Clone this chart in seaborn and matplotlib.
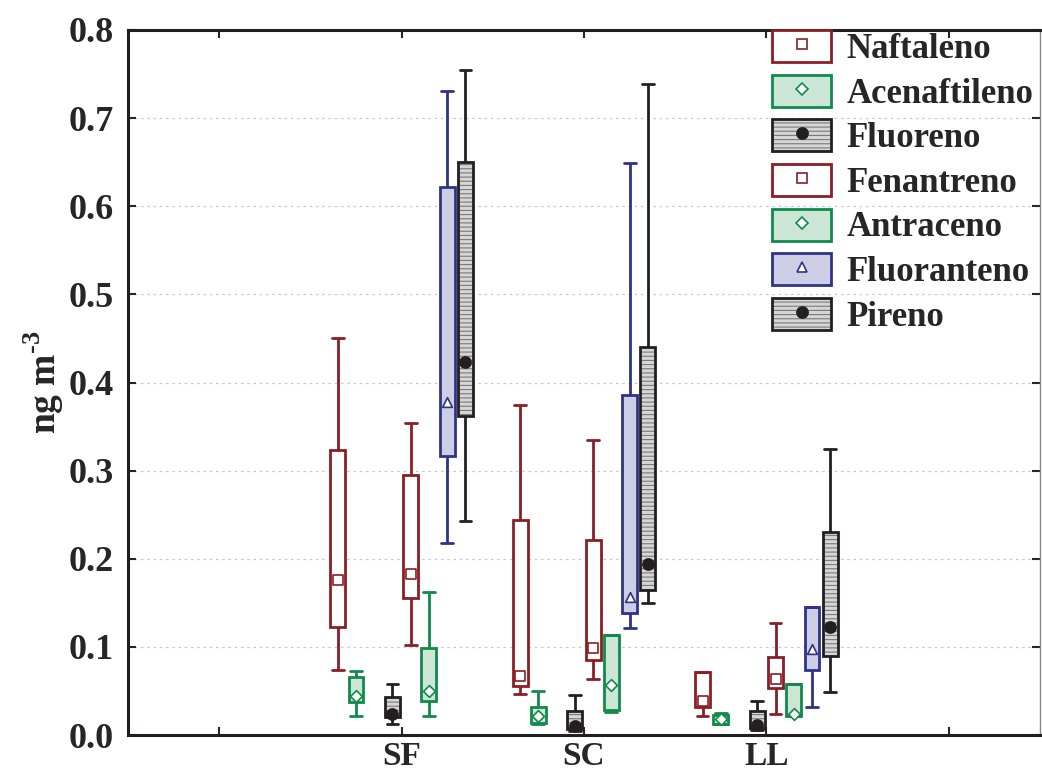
import numpy as np
import pandas as pd
import matplotlib as mpl
import matplotlib.pyplot as plt
import seaborn as sns
from matplotlib.patches import Patch
from matplotlib.lines import Line2D
from matplotlib.colors import to_rgba

# sites on the x axis and compounds (one box each per site)
sites = ['SF', 'SC', 'LL']
compounds = ['Naftaleno', 'Acenaftileno', 'Fluoreno', 'Fenantreno',
             'Antraceno', 'Fluoranteno', 'Pireno']

# five-number summaries, [compound][site] (SF, SC, LL)
whisk_lo = [[0.074, 0.046, 0.022],
            [0.021, 0.013, 0.012],
            [0.013, 0.004, 0.006],
            [0.102, 0.064, 0.024],
            [0.022, 0.026, 0.021],
            [0.218, 0.121, 0.032],
            [0.243, 0.150, 0.049]]
q1 = [[0.123, 0.056, 0.032],
      [0.037, 0.014, 0.013],
      [0.020, 0.007, 0.008],
      [0.155, 0.085, 0.053],
      [0.039, 0.028, 0.021],
      [0.317, 0.138, 0.074],
      [0.362, 0.164, 0.090]]
median = [[0.176, 0.067, 0.039],
          [0.044, 0.021, 0.018],
          [0.024, 0.010, 0.011],
          [0.183, 0.099, 0.063],
          [0.050, 0.057, 0.024],
          [0.378, 0.157, 0.098],
          [0.423, 0.194, 0.122]]
q3 = [[0.323, 0.244, 0.071],
      [0.066, 0.032, 0.023],
      [0.043, 0.027, 0.027],
      [0.295, 0.221, 0.089],
      [0.099, 0.114, 0.058],
      [0.622, 0.386, 0.145],
      [0.650, 0.440, 0.230]]
whisk_hi = [[0.451, 0.375, 0.071],
            [0.073, 0.050, 0.025],
            [0.058, 0.045, 0.039],
            [0.354, 0.335, 0.127],
            [0.162, 0.114, 0.058],
            [0.731, 0.649, 0.145],
            [0.755, 0.739, 0.325]]

# styling per compound
red, green, navy, black = '#8B1E24', '#118A4C', '#2E3387', '#231F20'
edge_cols = [red, green, black, red, green, navy, black]
face_cols = ['white', '#CBE6D5', '#D6D6D6', 'white', '#CBE6D5', '#CDCDE6', '#D6D6D6']
hatches = [None, None, '----', None, None, None, '----']
markers = ['s', 'D', 'o', 's', 'D', '^', 'o']
marker_face = ['white', 'white', black, 'white', 'white', 'white', black]
marker_size = [7, 6, 8, 7, 6, 7, 8]
hatch_col = to_rgba('#7A7A7A')

# 8 slots per site, the third one is empty in the original
slots = ['Naftaleno', 'Acenaftileno', '_empty', 'Fluoreno', 'Fenantreno',
         'Antraceno', 'Fluoranteno', 'Pireno']

rows = []
for i, c in enumerate(compounds):
    for j, s in enumerate(sites):
        for v in (whisk_lo[i][j], q1[i][j], median[i][j], q3[i][j], whisk_hi[i][j]):
            rows.append({'site': s, 'compound': c, 'value': v})
df = pd.DataFrame(rows)
df_med = pd.DataFrame([{'site': s, 'compound': c, 'value': median[i][j]}
                       for i, c in enumerate(compounds) for j, s in enumerate(sites)])

sns.set_style('ticks')
plt.rcParams['font.family'] = ['Liberation Serif', 'DejaVu Serif']
plt.rcParams['font.weight'] = 'bold'
plt.rcParams['mathtext.fontset'] = 'custom'
plt.rcParams['mathtext.rm'] = 'Liberation Serif:bold'
plt.rcParams['mathtext.bf'] = 'Liberation Serif:bold'
plt.rcParams['hatch.linewidth'] = 0.8

fig = plt.figure(figsize=(10.42, 7.80), dpi=100)
ax = fig.add_axes([128 / 1042, 1 - 735 / 780, (1040 - 128) / 1042, (735 - 30) / 780])

for i, c in enumerate(compounds):
    sub = df[df['compound'] == c]
    n_before = len(ax.patches)
    pal = {s: face_cols[i] for s in slots}
    sns.boxplot(data=sub, x='site', y='value', hue='compound', hue_order=slots,
                order=sites, palette=pal, saturation=1, linecolor=edge_cols[i],
                linewidth=2, width=0.8, gap=0.18, dodge=True, whis=(0, 100),
                fliersize=0, legend=False, medianprops=dict(linewidth=0),
                capwidths=0.065, ax=ax)
    for p in ax.patches[n_before:]:
        p.set_edgecolor(edge_cols[i])
        if hatches[i]:
            p.set_hatch(hatches[i])
            p._hatch_color = hatch_col
    sub_m = df_med[df_med['compound'] == c]
    mpal = {s: marker_face[i] for s in slots}
    sns.stripplot(data=sub_m, x='site', y='value', hue='compound', hue_order=slots,
                  order=sites, palette=mpal, dodge=True, jitter=False,
                  marker=markers[i], size=marker_size[i], edgecolor=edge_cols[i],
                  linewidth=1.2, legend=False, zorder=5, ax=ax)

ax.set_xlim(-1.5, 3.5)
ax.set_ylim(0, 0.8)
ax.set_xticks([-1, 0, 1, 2, 3])
ax.set_xticklabels(['', 'SF', 'SC', 'LL', ''])
ax.set_yticks(np.arange(0, 0.81, 0.1))
ax.set_yticklabels([f'{v:.1f}' for v in np.arange(0, 0.81, 0.1)])
ax.tick_params(axis='both', direction='in', length=6, width=1.5, labelsize=26,
               top=True, right=True)
ax.tick_params(axis='x', pad=4, labelsize=24)
ax.tick_params(axis='y', pad=10)
ax.yaxis.grid(True, linestyle=(0, (2, 3)), color='#C8C8C8', linewidth=0.9)
ax.set_axisbelow(True)
ax.set_xlabel('')
ax.set_ylabel(r'ng m$^{\text{-3}}$', fontsize=27, fontweight='bold', labelpad=2)

for side in ['left', 'bottom', 'top']:
    ax.spines[side].set_linewidth(2.2)
    ax.spines[side].set_color(black)
ax.spines['right'].set_linewidth(1)
ax.spines['right'].set_color('#888888')

handles = []
for i, c in enumerate(compounds):
    patch = Patch(facecolor=face_cols[i], edgecolor=edge_cols[i], linewidth=2,
                  hatch=hatches[i])
    if hatches[i]:
        patch._hatch_color = hatch_col
    mk = Line2D([], [], linestyle='', marker=markers[i], markersize=marker_size[i],
                markerfacecolor=marker_face[i], markeredgecolor=edge_cols[i],
                markeredgewidth=1.2)
    handles.append((patch, mk))

ax.legend(handles, compounds, loc='upper left',
          bbox_to_anchor=(772 / 1042, 1 - 30 / 780), bbox_transform=fig.transFigure,
          frameon=False, handlelength=1.7, handleheight=1.05,
          handletextpad=0.45, labelspacing=0.25, borderpad=0, borderaxespad=0,
          prop={'weight': 'bold', 'size': 25})

fig.savefig('out.png', dpi=100)
